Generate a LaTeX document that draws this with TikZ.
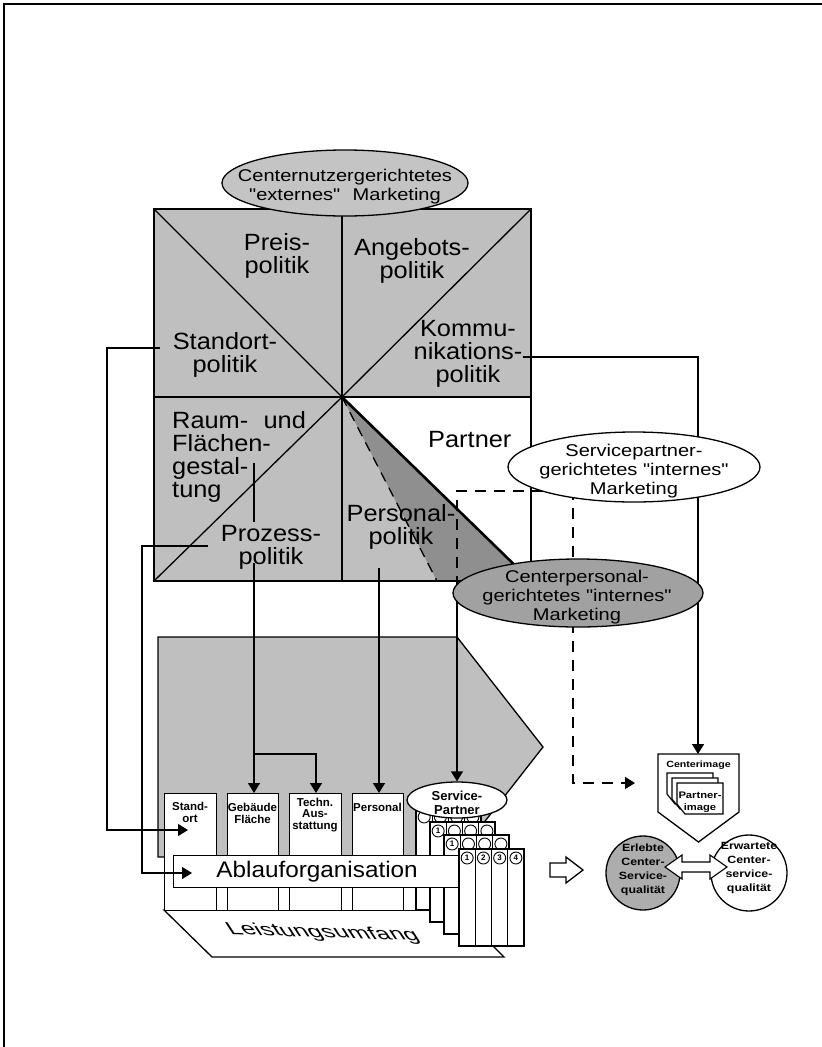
\documentclass[tikz,border=0pt]{standalone}
\usepackage{fontspec}
\setmainfont{Liberation Sans}
\newfontfamily\labfont[FakeStretch=1.08]{Liberation Sans}
\newfontfamily\widefont[FakeStretch=1.18]{Liberation Sans}
\usetikzlibrary{arrows.meta,shapes.geometric}
\definecolor{shA}{gray}{0.75}
\definecolor{shB}{gray}{0.56}
\definecolor{shC}{gray}{0.63}
\definecolor{shE}{gray}{0.77}
\definecolor{shQ}{gray}{0.68}
% #1 x, #2 top, #3 bottom, #4 name, #5 how many circles show their number
\newcommand{\stackedlayer}[5]{%
  \foreach \k in {1,2,3,4}{%
    \draw[line width=1.1pt, fill=white] ({#1+16.25*(\k-1)},#2) rectangle ({#1+16.25*\k},#3);
    \ifnum\k>#5\relax
      \node[num] (L#4n\k) at ({#1+16.25*\k-8.1},{#2+9}) {};
    \else
      \node[num] (L#4n\k) at ({#1+16.25*\k-8.1},{#2+9}) {\k};
    \fi
  }}
\begin{document}
\begin{tikzpicture}[x=1pt,y=-1pt,
  ln/.style={line width=1.3pt},
  conn/.style={line width=1.4pt},
  tip/.style={-{Triangle[length=10pt,width=12pt]}},
  dsh/.style={line width=1.5pt, dash pattern=on 11pt off 8pt},
  big/.style={font=\labfont\fontsize{23.5}{23}\selectfont, align=center, inner sep=0pt},
  etx/.style={font=\widefont\fontsize{17}{19}\selectfont, align=center, inner sep=0pt},
  small/.style={font=\bfseries\fontsize{11.5}{11.5}\selectfont, align=center, inner sep=0pt},
  tiny/.style={font=\widefont\bfseries\fontsize{9.5}{12}\selectfont, align=center, inner sep=0pt},
  qtx/.style={font=\widefont\bfseries\fontsize{10.5}{13.7}\selectfont, align=center, inner sep=0pt},
  ell/.style={ellipse, draw, line width=1.3pt, inner sep=0pt},
  colbox/.style={draw, fill=white, line width=1.2pt, inner sep=0pt, anchor=north west},
  num/.style={circle, draw, fill=white, line width=0.9pt, minimum size=12pt, inner sep=0pt, font=\bfseries\fontsize{8}{8}\selectfont},
]
\useasboundingbox (0,0) rectangle (822,1047);
% frame
\draw[line width=1.3pt] (4,1047) -- (4,4) -- (822,4);

% ---------- square ----------
\fill[shA] (154,209) rectangle (531,397);
\fill[shA] (154,397) rectangle (342,581);
\fill[shA] (342,397) -- (531,581) -- (342,581) -- cycle;
\fill[shB] (342,397) -- (531,581) -- (437,581) -- cycle;
\draw[ln] (154,209) rectangle (531,581);
\draw[ln] (154,397) -- (531,397);
\draw[ln] (342,209) -- (342,581);
\draw[ln] (154,209) -- (342,397) -- (531,209);
\draw[ln] (154,581) -- (342,397);
\draw[line width=1.3pt, dash pattern=on 10pt off 7pt] (342,397) -- (437,581);
\draw[line width=2.6pt] (342,397) -- (531,581);

% labels (anchor = baseline of last line)
\node[big, anchor=base] (preis) at (277,273) {Preis-\\politik};
\node[big, anchor=base] (angebot) at (412,278) {Angebots-\\politik};
\node[big, anchor=base] (standort) at (225,372) {Standort-\\politik};
\node[big, anchor=base] (kommu) at (468,382) {Kommu-\\nikations-\\politik};
\node[big, anchor=base west, align=left] (raum) at (172,497) {Raum-\hspace{0.35em} und\\Flächen-\\gestal-\\tung};
\node[big, anchor=base west] (partner) at (428,447) {Partner};
\node[big, anchor=base] (prozess) at (271,564) {Prozess-\\politik};
\node[big, anchor=base] (personal) at (401,544) {Personal-\\politik};

% connectors behind ellipses
\coordinate (kA) at (523,357);
\coordinate (ci) at (698,754);
\draw[conn,tip] (kA) -- (698,357) -- (ci);
\draw[dsh] (600,491) -- (457,491) -- (457,600);
\coordinate (dT) at (635,783);
\draw[dsh,-{Triangle[length=10pt,width=12pt]}] (573,470) -- (573,783) -- (dT);

% ellipses
\node[ell, fill=shE, minimum width=246pt, minimum height=66pt] (ext) at (345,183) {};
\node[etx, anchor=base] (exttxt) at (345,200) {Centernutzergerichtetes\\"externes"\hspace{0.4em} Marketing};
\node[ell, fill=white, minimum width=252pt, minimum height=70pt] (sp) at (634,467) {};
\node[etx, anchor=base] (sptxt) at (634,494) {Servicepartner-\\gerichtetes "internes"\\Marketing};
\node[ell, fill=shC, minimum width=250pt, minimum height=68pt] (cp) at (578,593) {};
\node[etx, anchor=base] (cptxt) at (577,620) {Centerpersonal-\\gerichtetes "internes"\\Marketing};

% ---------- lower block ----------
\draw[ln, fill=shA] (158,637) -- (457,637) -- (543,747) -- (457,857) -- (158,857) -- cycle;
\draw[ln, fill=white] (164,910) -- (457,910) -- (504,957) -- (212,957) -- cycle;
\begin{scope}[shift={(323,933)}, rotate=-2, xslant=-0.7, yscale=0.68]
  \node[font=\fontsize{25}{25}\selectfont, inner sep=0pt, transform shape] (leist) at (0,0) {Leistungsumfang};
\end{scope}
\node[colbox, minimum width=264pt, minimum height=53pt] (backing) at (164,857) {};
\node[colbox, minimum width=52pt, minimum height=117pt] (cstand) at (164,793) {};
\node[colbox, minimum width=51pt, minimum height=117pt] (cgeb) at (227,793) {};
\node[colbox, minimum width=52pt, minimum height=117pt] (ctech) at (289,793) {};
\node[colbox, minimum width=51pt, minimum height=117pt] (cpers) at (352,793) {};
\node[small, anchor=base] (tstand) at (190,822) {Stand-\\ort};
\node[small, anchor=base] (tgeb) at (252.5,823) {Gebäude\\Fläche};
\node[small, anchor=base] (ttech) at (315,829) {Techn.\\Aus-\\stattung};
\node[small, anchor=base] (tpers) at (377.5,811) {Personal};

\stackedlayer{416}{808}{910}{a}{0}
\node[ell, fill=white, minimum width=100pt, minimum height=36pt] (spp) at (457,800) {};
\node[font=\bfseries\fontsize{13}{14}\selectfont, align=center, inner sep=0pt, anchor=base] (spptxt) at (457,814) {Service-\\Partner};
\stackedlayer{430}{822}{922}{b}{1}
\stackedlayer{444}{835}{934}{c}{1}
\node[colbox, minimum width=287pt, minimum height=32pt, font=\labfont\fontsize{22.5}{22.5}\selectfont] (ablauf) at (173,855) {Ablauforganisation};
\stackedlayer{459}{849}{946}{d}{4}

% lower connectors
\coordinate (sA) at (160,348);
\coordinate (tA) at (188,830);
\draw[conn,tip] (sA) -- (107,348) -- (107,830) -- (tA);
\coordinate (pA) at (208,546);
\coordinate (tB) at (192,873);
\draw[conn,tip] (pA) -- (142,546) -- (142,873) -- (tB);
\draw[conn] (254,463) -- (254,522);
\draw[conn,tip] (254,563) -- (cgeb.north -| 254,0);
\draw[conn,tip] (254,754) -- (316,754) -- (ctech.north -| 316,0);
\draw[conn,tip] (379,568) -- (cpers.north -| 379,0);
\draw[conn,tip] (457,601) -- (spp.north);

% ---------- right side ----------
\draw[ln, fill=white] (658,754) -- (739,754) -- (739,812) -- (698.5,842) -- (658,812) -- cycle;
\node[font=\widefont\bfseries\fontsize{9}{12}\selectfont, inner sep=0pt, anchor=base] (citxt) at (698.5,767) {Centerimage};
\foreach \d in {0,5,10}{
  \draw[line width=1.1pt, fill=white] ({667+\d},{773+\d}) -- ++(46,0) -- ++(0,31) -- ++(-38,0) -- ++(-8,-10) -- cycle;
}
\node[tiny, anchor=base] (pitxt) at (700,810) {Partner-\\image};

\draw[ln, fill=white] (550,863) -- (566,863) -- (566,857) -- (583,870) -- (566,883) -- (566,877) -- (550,877) -- cycle;

\node[circle, draw, line width=1.3pt, fill=shQ, minimum size=74pt, inner sep=0pt] (erl) at (643,873) {};
\node[circle, draw, line width=1.3pt, fill=white, minimum size=76pt, inner sep=0pt] (erw) at (749,873) {};
\node[qtx, anchor=base] (erltxt) at (643,893) {Erlebte\\Center-\\Service-\\qualität};
\node[qtx, anchor=base] (erwtxt) at (749,891) {Erwartete\\Center-\\service-\\qualität};
\draw[line width=1.1pt, fill=white] (665,867) -- (682,855) -- (682,862) -- (710,862) -- (710,855) -- (727,867) -- (710,879) -- (710,872) -- (682,872) -- (682,879) -- cycle;
\end{tikzpicture}
\end{document}
